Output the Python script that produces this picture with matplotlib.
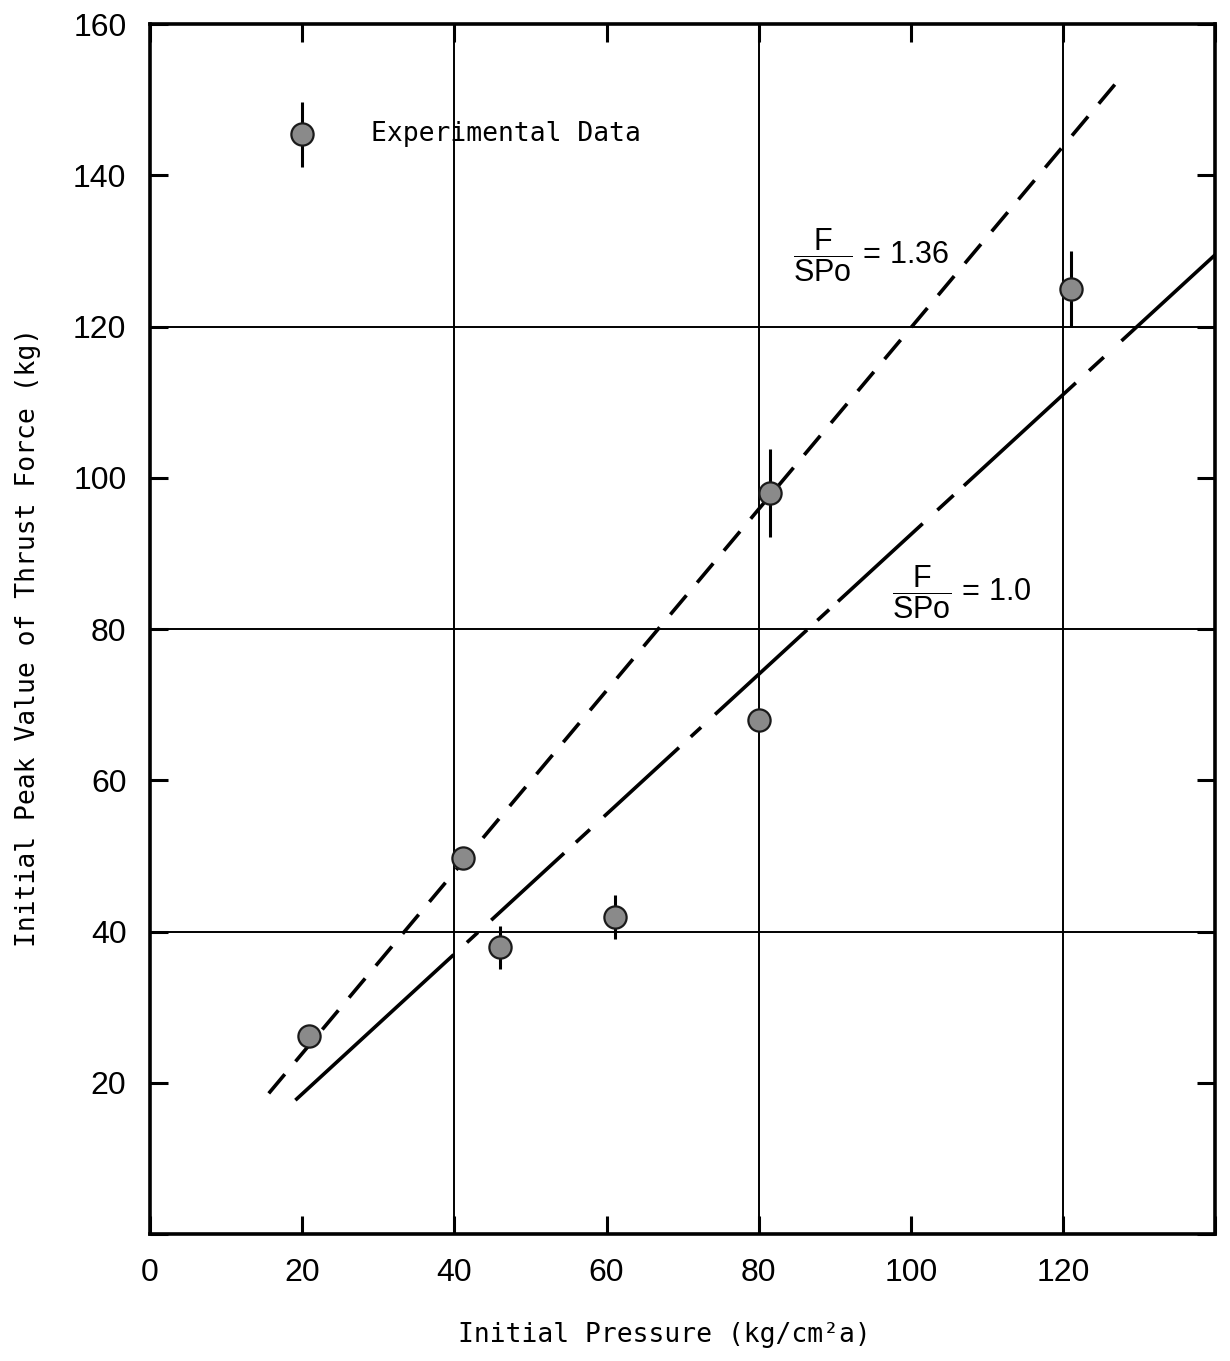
import numpy as np
import matplotlib
matplotlib.use("Agg")
import matplotlib.pyplot as plt

# experimental points (initial pressure, peak thrust force) and their error bars
pressure = [20.9, 41.1, 46.0, 61.1, 80.0, 81.5, 121.0]
force = [26.2, 49.7, 37.9, 41.9, 68.0, 98.0, 125.0]
force_err = [0.0, 0.0, 2.8, 2.9, 0.0, 5.8, 5.0]

# legend symbol
legend_x, legend_y, legend_err = 20.0, 145.4, 4.3

# the two reference lines F/SPo = 1.36 and F/SPo = 1.0 (end points)
line136_x = [15.6, 126.8]
line136_y = [18.6, 152.0]
line10_x = [19.1, 140.0]
line10_y = [17.7, 129.5]

xticks = [0, 20, 40, 60, 80, 100, 120]
yticks = [20, 40, 60, 80, 100, 120, 140, 160]
grid_lines = [40, 80, 120]

plt.rcParams['lines.scale_dashes'] = False
plt.rcParams['mathtext.fontset'] = 'custom'
plt.rcParams['mathtext.rm'] = 'Liberation Sans'
plt.rcParams['mathtext.it'] = 'Liberation Sans'

mono = 'DejaVu Sans Mono'
tick_font = 'Liberation Sans'

fig = plt.figure(figsize=(12.3, 13.61), dpi=100)
ax = fig.add_axes([0.122, 0.0933, 0.866, 0.889])

ax.set_xlim(0, 140)
ax.set_ylim(0, 160)

for g in grid_lines:
    ax.axvline(g, color='black', lw=1.4, zorder=1)
    ax.axhline(g, color='black', lw=1.4, zorder=1)

# F/SPo = 1.36 : short dashes
l1, = ax.plot(line136_x, line136_y, color='black', lw=2.6, zorder=2)
l1.set_dashes([18, 12])

# F/SPo = 1.0 : long dash / short dash, drawn by hand
l2, = ax.plot(line10_x, line10_y, color='black', lw=2.6, zorder=2)
px = [215, 18, 15, 18, 99, 16, 19, 19, 102, 16, 14, 19, 125, 14, 16, 12,
      115, 20, 22, 14, 152, 18, 20, 24, 220, 20]
l2.set_dashes([p * 0.72 for p in px])

# data points
err = np.array(force_err)
ax.errorbar(pressure, force, yerr=np.where(err > 0, err, np.nan), fmt='none',
            ecolor='black', elinewidth=2.2, capsize=0, zorder=3)
ax.plot(pressure, force, 'o', ms=16, mfc='#8a8a8a', mec='#1a1a1a', mew=1.6, zorder=4)

ax.errorbar([legend_x], [legend_y], yerr=[legend_err], fmt='none',
            ecolor='black', elinewidth=2.2, capsize=0, zorder=3)
ax.plot([legend_x], [legend_y], 'o', ms=16, mfc='#8a8a8a', mec='#1a1a1a', mew=1.6, zorder=4)
ax.text(29.1, legend_y, 'Experimental Data', family=mono, fontsize=19,
        ha='left', va='center')

ax.text(84.5, 129.5, r'$\dfrac{F}{SPo}$' + ' = 1.36', fontsize=22, family=tick_font,
        ha='left', va='center')
ax.text(97.5, 84.9, r'$\dfrac{F}{SPo}$' + ' = 1.0', fontsize=22, family=tick_font,
        ha='left', va='center')

# ticks: inward on all four sides, labels only bottom / left
ax.set_xticks(xticks + [140])
ax.set_xticklabels([str(t) for t in xticks] + [''])
ax.set_yticks([0] + yticks)
ax.set_yticklabels([''] + [str(t) for t in yticks])
ax.tick_params(direction='in', length=13, width=2.2, top=True, right=True,
               labelsize=23, pad=17)
for lab in ax.get_xticklabels() + ax.get_yticklabels():
    lab.set_family(tick_font)

for s in ax.spines.values():
    s.set_linewidth(2.6)

ax.set_xlabel('Initial Pressure (kg/cm\u00b2a)', family=mono, fontsize=19)
ax.xaxis.set_label_coords(0.483, -0.073)
fig.text(28 / 1230, 1 - 637 / 1361, 'Initial Peak Value of Thrust Force (kg)',
         family=mono, fontsize=19, rotation=90, ha='center', va='center')

fig.savefig('out.png', dpi=100, facecolor='white')
